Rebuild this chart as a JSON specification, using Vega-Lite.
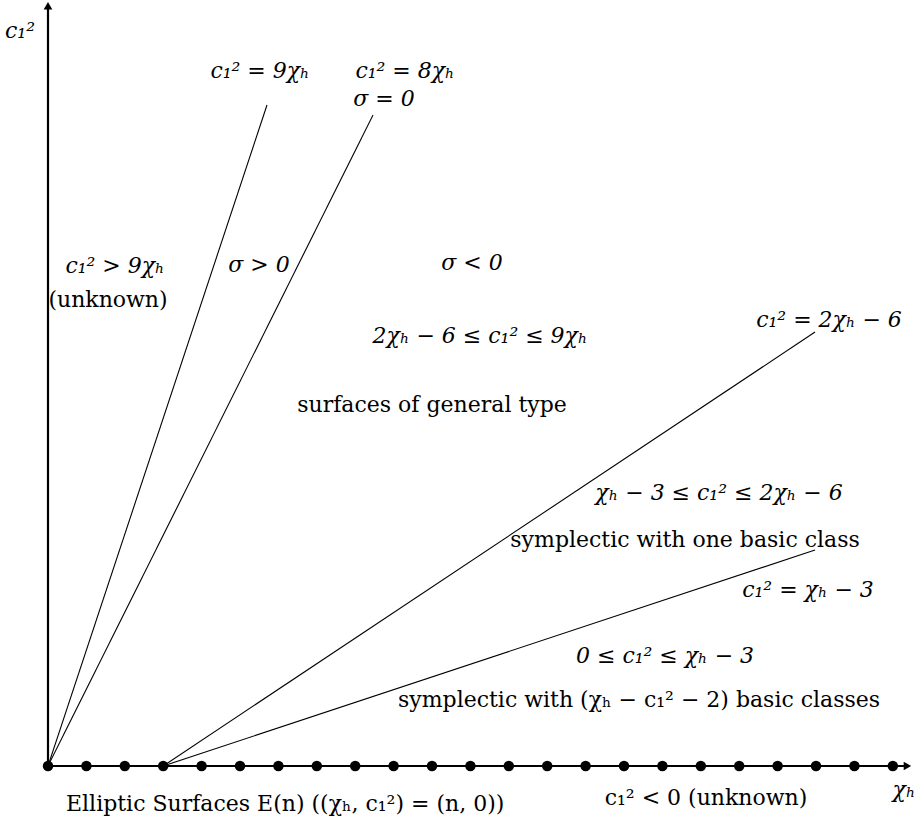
{
  "$schema": "https://vega.github.io/schema/vega-lite/v6.json",
  "autosize": {"type": "fit", "contains": "padding"},
  "width": 923,
  "height": 827,
  "padding": 0,
  "background": "white",
  "config": {"view": {"stroke": null}},
  "datasets": {
    "axes": [
      {"name": "y", "x": 0, "y": 0, "x2": 0, "y2": 19.75},
      {"name": "x", "x": 0, "y": 0, "x2": 22.35, "y2": 0}
    ],
    "arrows": [
      {"dir": "up", "x": 0, "y": 19.8},
      {"dir": "right", "x": 22.38, "y": 0}
    ],
    "lines": [
      {"line": "c1^2 = 9 chi_h", "x": 0, "y": 0, "x2": 5.703, "y2": 17.214},
      {"line": "c1^2 = 8 chi_h", "x": 0, "y": 0, "x2": 8.464, "y2": 16.953},
      {"line": "c1^2 = 2 chi_h - 6", "x": 3, "y": 0, "x2": 19.974, "y2": 11.302},
      {"line": "c1^2 = chi_h - 3", "x": 3, "y": 0, "x2": 19.974, "y2": 5.625}
    ],
    "dots": [
      {"n": 0, "c": 0}, {"n": 1, "c": 0}, {"n": 2, "c": 0}, {"n": 3, "c": 0},
      {"n": 4, "c": 0}, {"n": 5, "c": 0}, {"n": 6, "c": 0}, {"n": 7, "c": 0},
      {"n": 8, "c": 0}, {"n": 9, "c": 0}, {"n": 10, "c": 0}, {"n": 11, "c": 0},
      {"n": 12, "c": 0}, {"n": 13, "c": 0}, {"n": 14, "c": 0}, {"n": 15, "c": 0},
      {"n": 16, "c": 0}, {"n": 17, "c": 0}, {"n": 18, "c": 0}, {"n": 19, "c": 0},
      {"n": 20, "c": 0}, {"n": 21, "c": 0}, {"n": 22, "c": 0}
    ],
    "labels": [
      {"kind": "math", "text": "c₁²", "x": -0.729, "y": 18.958},
      {"kind": "math", "text": "c₁² = 9χₕ", "x": 5.521, "y": 17.917},
      {"kind": "math", "text": "c₁² = 8χₕ", "x": 9.297, "y": 17.917},
      {"kind": "math", "text": "σ = 0", "x": 8.75, "y": 17.1875},
      {"kind": "math", "text": "c₁² > 9χₕ", "x": 1.745, "y": 12.839},
      {"kind": "prose", "text": "(unknown)", "x": 1.5625, "y": 11.953},
      {"kind": "math", "text": "σ > 0", "x": 5.495, "y": 12.865},
      {"kind": "math", "text": "σ < 0", "x": 11.042, "y": 12.917},
      {"kind": "math", "text": "2χₕ − 6 ≤ c₁² ≤ 9χₕ", "x": 11.25, "y": 11.016},
      {"kind": "prose", "text": "surfaces of general type", "x": 10.0, "y": 9.219},
      {"kind": "math", "text": "c₁² = 2χₕ − 6", "x": 20.339, "y": 11.432},
      {"kind": "math", "text": "χₕ − 3 ≤ c₁² ≤ 2χₕ − 6", "x": 17.474, "y": 6.927},
      {"kind": "prose", "text": "symplectic with one basic class", "x": 16.589, "y": 5.703},
      {"kind": "math", "text": "c₁² = χₕ − 3", "x": 19.792, "y": 4.401},
      {"kind": "math", "text": "0 ≤ c₁² ≤ χₕ − 3", "x": 16.068, "y": 2.682},
      {"kind": "prose", "text": "symplectic with (χₕ − c₁² − 2) basic classes", "x": 15.391, "y": 1.536},
      {"kind": "prose-left", "text": "Elliptic Surfaces E(n) ((χₕ, c₁²) = (n, 0))", "x": 0.469, "y": -1.172},
      {"kind": "prose", "text": "c₁² < 0 (unknown)", "x": 17.135, "y": -1.016},
      {"kind": "math", "text": "χₕ", "x": 22.292, "y": -0.807}
    ]
  },
  "encoding": {
    "x": {"field": "x", "type": "quantitative", "scale": {"domain": [-1.25, 22.786], "nice": false, "zero": false}, "axis": null},
    "y": {"field": "y", "type": "quantitative", "scale": {"domain": [-1.589, 19.948], "nice": false, "zero": false}, "axis": null}
  },
  "layer": [
    {
      "data": {"name": "lines"},
      "mark": {"type": "rule", "color": "black", "strokeWidth": 1.1},
      "encoding": {"x2": {"field": "x2"}, "y2": {"field": "y2"}}
    },
    {
      "data": {"name": "axes"},
      "mark": {"type": "rule", "color": "black", "strokeWidth": 2.2},
      "encoding": {"x2": {"field": "x2"}, "y2": {"field": "y2"}}
    },
    {
      "data": {"name": "arrows"},
      "mark": {"type": "point", "filled": true, "color": "black", "size": 75, "opacity": 1},
      "encoding": {
        "shape": {"field": "dir", "type": "nominal", "scale": {"domain": ["up", "right"], "range": ["triangle-up", "triangle-right"]}, "legend": null}
      }
    },
    {
      "data": {"name": "dots"},
      "mark": {"type": "circle", "color": "black", "size": 110, "opacity": 1},
      "encoding": {
        "x": {"field": "n", "type": "quantitative"},
        "y": {"field": "c", "type": "quantitative"}
      }
    },
    {
      "data": {"name": "labels"},
      "transform": [{"filter": "datum.kind === 'prose'"}],
      "mark": {"type": "text", "font": "DejaVu Serif", "fontSize": 22, "align": "center", "baseline": "alphabetic", "color": "black"},
      "encoding": {"text": {"field": "text", "type": "nominal"}}
    },
    {
      "data": {"name": "labels"},
      "transform": [{"filter": "datum.kind === 'prose-left'"}],
      "mark": {"type": "text", "font": "DejaVu Serif", "fontSize": 22, "align": "left", "baseline": "alphabetic", "color": "black"},
      "encoding": {"text": {"field": "text", "type": "nominal"}}
    },
    {
      "data": {"name": "labels"},
      "transform": [{"filter": "datum.kind === 'math'"}],
      "mark": {"type": "text", "font": "DejaVu Serif", "fontSize": 22, "fontStyle": "italic", "align": "center", "baseline": "alphabetic", "color": "black"},
      "encoding": {"text": {"field": "text", "type": "nominal"}}
    }
  ]
}
